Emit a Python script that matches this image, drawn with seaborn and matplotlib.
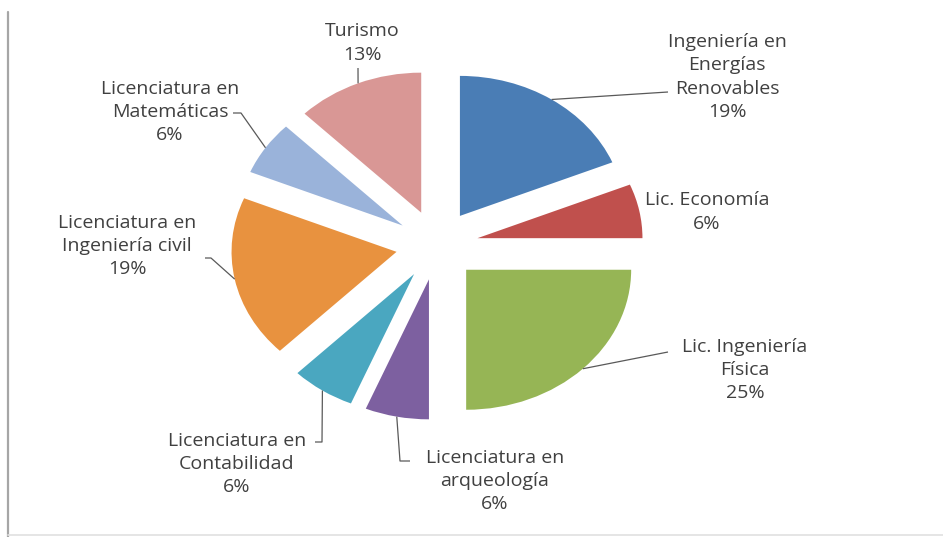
import numpy as np
import matplotlib
matplotlib.use("Agg")
import matplotlib.pyplot as plt
import seaborn as sns

# ---- data ----
categories = ["Ingeniería en\nEnergías\nRenovables", "Lic. Economía", "Lic. Ingeniería\nFísica",
              "Licenciatura en\narqueología", "Licenciatura en\nContabilidad",
              "Licenciatura en\nIngeniería civil", "Licenciatura en\nMatemáticas", "Turismo"]
values = [3, 1, 4, 1, 1, 3, 1, 2]
pct_labels = ["19%", "6%", "25%", "6%", "6%", "19%", "6%", "13%"]
colors = ["#4A7DB5", "#C0504D", "#96B555", "#7D60A0", "#4AA7C0", "#E8923F", "#9AB3DA", "#D99795"]

sns.set_theme(style="white")
plt.rcParams['font.family'] = ['Open Sans', 'DejaVu Sans']

W, H = 943, 537
fig = plt.figure(figsize=(W / 100, H / 100), dpi=100)
ax = fig.add_axes([0, 0, 1, 1])
CX, CY, RX, RY = 437, 245, 165, 140


def p2d(px, py):
    return ((px - CX) / RX, (CY - py) / RY)


wedges, _ = ax.pie(values, colors=colors, startangle=90, counterclock=False,
                   explode=[0.25] * len(values), wedgeprops=dict(linewidth=0))
ax.set_aspect('auto')
ax.set_xlim(p2d(0, 0)[0], p2d(W, 0)[0])
ax.set_ylim(p2d(0, H)[1], p2d(0, 0)[1])
ax.axis('off')

# label layout (pixel centres) and leader waypoints
label_pos = [(727, 77), (707, 212), (745, 370), (495, 481), (237, 464), (127, 246), (170, 112), (362, 43)]
leaders = [[(668, 92)], None, [(668, 352)], [(410, 461), (400, 461)], [(315, 442), (322, 442)],
           [(205, 258), (211, 258)], [(233, 113), (241, 113)], [(358, 68)]]

txt_color = "#404040"
for w, cat, pct, pos, lead in zip(wedges, categories, pct_labels, label_pos, leaders):
    x, y = p2d(*pos)
    ax.text(x, y, f"{cat}\n{pct}", ha="center", va="center", multialignment="center",
            fontsize=14, color=txt_color, linespacing=1.38)
    if lead is None:
        continue
    mid = np.deg2rad((w.theta1 + w.theta2) / 2)
    ax_, ay_ = w.center[0] + w.r * np.cos(mid), w.center[1] + w.r * np.sin(mid)
    pts = [p2d(*p) for p in lead] + [(ax_, ay_)]
    xs, ys = zip(*pts)
    ax.plot(xs, ys, color="#595959", lw=0.9, solid_capstyle="butt")

# chart frame remnants
x0, y0 = p2d(8, 12)
x1, y1 = p2d(8, H)
ax.plot([x0, x1], [y0, y1], color="#A6A6A6", lw=1.6)
bx0, by = p2d(8, 535)
bx1, _ = p2d(W, 535)
ax.plot([bx0, bx1], [by, by], color="#E0E0E0", lw=1.2)

fig.savefig("out.png", dpi=100)
